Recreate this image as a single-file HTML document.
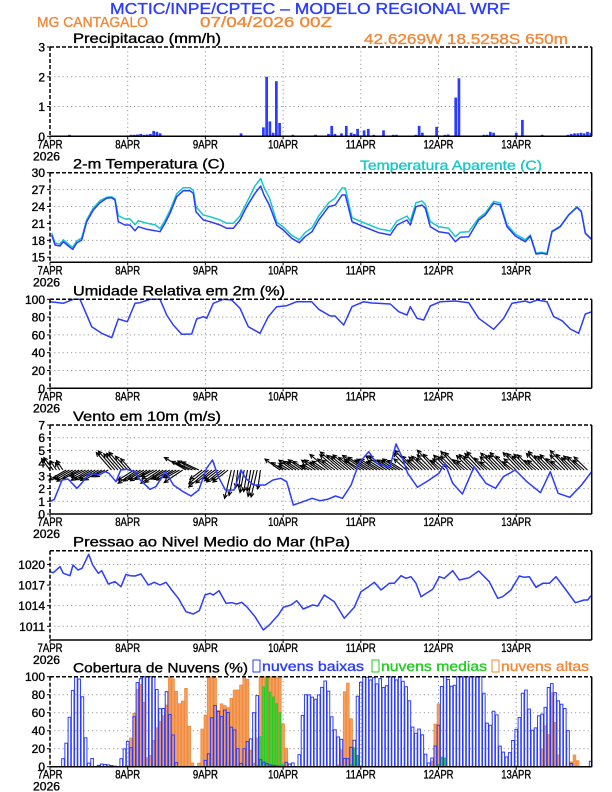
<!DOCTYPE html>
<html><head><meta charset="utf-8"><style>
body{margin:0;background:#fff;}
svg{display:block;font-family:"Liberation Sans",sans-serif;}
</style></head><body>
<svg id="s" width="612" height="792" viewBox="0 0 612 792" xmlns="http://www.w3.org/2000/svg"></svg>
<script>
const S=document.getElementById('s');let out='';
const X0=50,X1=591.7,PH=3.2375;const xh=h=>X0+h*PH;
const BL='#2b3cff',CY='#18c8c8',OR='#f0883a',GR='#22cc22';
function txt(x,y,t,opt){opt=opt||{};const c=opt.c||'#000';out+=`<text x="${x}" y="${y}" font-size="${opt.fs||12}" fill="${c}" stroke="${c}" stroke-width="0.35" text-anchor="${opt.a||'start'}" ${opt.tl?'textLength="'+opt.tl+'" lengthAdjust="spacingAndGlyphs"':''}>${t}</text>`;}
const days=['7APR','8APR','9APR','10APR','11APR','12APR','13APR'];
function panel(top,bot,vmin,vmax,ticks,title,tl){
  const ys=v=>bot-(v-vmin)/(vmax-vmin)*(bot-top);
  for(let d=1;d<7;d++){const x=xh(d*24);out+=`<line x1="${x}" y1="${top}" x2="${x}" y2="${bot}" stroke="#999" stroke-dasharray="1.2,3"/>`;}
  ticks.forEach(v=>{const y=ys(v);if(y>top+1&&y<bot-1)out+=`<line x1="${X0}" y1="${y}" x2="${X1}" y2="${y}" stroke="#999" stroke-dasharray="1.2,3"/>`;
    out+=`<line x1="${X0-3}" y1="${y}" x2="${X0}" y2="${y}" stroke="#000"/>`;txt(X0-5,y+4.5,v,{a:'end',fs:12});});
  for(let d=0;d<7;d++){const x=xh(d*24);out+=`<line x1="${x}" y1="${bot}" x2="${x}" y2="${bot+3}" stroke="#000"/>`;txt(x,bot+12,days[d],{a:'middle',fs:11.5,tl:days[d].length>4?30:25});}
  txt(33,bot+24,'2026',{fs:11.5,tl:27});
  txt(73,top-4,title,{fs:14,tl:tl});
  return ys;}
function frame(top,bot){out+=`<line x1="${X0}" y1="${top}" x2="${X1}" y2="${top}" stroke="#000" stroke-width="1.5" stroke-dasharray="4,2"/><line x1="${X0}" y1="${top}" x2="${X0}" y2="${bot}" stroke="#000" stroke-width="1.5" stroke-dasharray="4,2"/><line x1="${X1}" y1="${top}" x2="${X1}" y2="${bot}" stroke="#000" stroke-width="1.5"/><line x1="${X0}" y1="${bot}" x2="${X1}" y2="${bot}" stroke="#000" stroke-width="1.5"/>`;}
function pl(pts,c,w){out+=`<polyline points="${pts.map(p=>p[0].toFixed(1)+','+p[1].toFixed(1)).join(' ')}" fill="none" stroke="${c}" stroke-width="${w||1.5}" stroke-linejoin="round"/>`;}
txt(310,14,'MCTIC/INPE/CPTEC – MODELO REGIONAL WRF',{a:'middle',fs:16,c:BL,tl:400});
txt(37,27,'MG CANTAGALO',{fs:15,c:OR,tl:111});
txt(200,27,'07/04/2026 00Z',{fs:15,c:OR,tl:132});
txt(364,44,'42.6269W 18.5258S 650m',{fs:15,c:OR,tl:204});
let ys=panel(47,136.3,0,3,[0,1,2,3],'Precipitacao (mm/h)',148);
const pr={66.9:2.0,67.9:0.5,65.9:0.3,68.9:0.12,69.9:1.85,70.9:0.45,87:0.35,91.5:0.35,95:0.25,97:0.2,98.3:0.25,103:0.2,114:0.35,119.4:0.32,122:0.05,125.3:1.3,126.3:1.95,145.9:0.55,
 6:0.05,25:0.05,26:0.05,27:0.06,28:0.08,29:0.05,30:0.06,31:0.08,32:0.18,33:0.15,34:0.1,59:0.1,75:0.05,82:0.05,86:0.08,88:0.08,90:0.1,93:0.12,94:0.08,100:0.05,106:0.05,107:0.05,113:0.05,115:0.12,123:0.06,134:0.05,135:0.05,136:0.15,137:0.12,144:0.12,152:0.05,160:0.05,161:0.08,162:0.1,163:0.1,164:0.12,165:0.1,166:0.15,167:0.12};
for(const k in pr){const x=xh(+k)-1.3,y=ys(pr[k]);out+=`<rect x="${x}" y="${y}" width="2.7" height="${136.3-y}" fill="${BL}"/>`;}
frame(47,136.3);
ys=panel(172.7,262.3,14.1,30,[15,18,21,24,27,30],'2-m Temperatura (C)',152);
txt(360,170,'Temperatura Aparente (C)',{fs:14,c:CY,tl:182});
const T=[[51.7,235],[55,245],[60,246],[63.3,241.7],[68.3,246],[72.7,249.3],[76.7,243],[81.7,240],[86.7,221.7],[93.3,210],[100,202.7],[106.7,198.3],[111.7,197.7],[115,200],[118.3,221.7],[125,225],[130,225],[135,230.7],[138.3,226.7],[146.7,229.3],[155,230.7],[160,231.7],[165,223.3],[170,213.3],[176.7,196.7],[183.3,190.7],[190,190.7],[193.3,193.3],[196,211.7],[203.3,220],[210,221.7],[220,225],[226.7,228.3],[233.3,228.3],[240,220],[246.7,206.7],[255,193.3],[260.7,186],[264,195],[269.3,205],[276.7,225],[283.3,230],[291.7,238.3],[299.3,242.7],[305,236.7],[312,231.7],[318.7,220],[328.7,206.7],[335.3,205],[342,195],[345.3,195],[352,221.7],[362,226],[378.7,232.7],[390.3,235],[397,225],[407,220],[410.3,225],[416,206.7],[422,205],[425.3,208.3],[430.3,226.7],[438.7,231.7],[448.7,233.3],[455.3,241.7],[460.3,237.3],[468.7,236.7],[478.7,220],[485.3,215],[493.7,203.3],[500.3,205],[507,226.7],[515.3,236],[525.3,241.7],[530.3,236],[536,254],[542,253.3],[547,254.3],[552,231.7],[560.3,226.7],[568.7,215],[577,207.3],[581.3,211.7],[585.3,233.3],[592,240]];
const off=x=>{if(x<118)return (x>100&&x<116)?1:2;if(x<160)return 6;if(x<196)return 3;if(x<240)return 5;if(x<276)return x>250?7.5:4;if(x<300)return 3;if(x<352)return x>335?7:4;if(x<430)return 4;if(x<470)return 5;if(x<530)return 2;if(x<550)return 1;return 0.5;};
pl(T.map(p=>[p[0],p[1]-off(p[0])]),CY);
pl(T,BL);
frame(172.7,262.3);
ys=panel(299.3,388.3,0,100,[0,20,40,60,80,100],'Umidade Relativa em 2m (%)',212);
pl([[50,301.7],[63.3,303.3],[73.3,299.3],[80,299.3],[91.7,326.7],[101.7,333.3],[111.7,337.7],[118.3,319],[127.3,321.7],[135,303.3],[140,302.7],[150,299.3],[160,299.3],[166.7,315],[173.3,325],[181.7,334.3],[191.7,334],[196.7,319],[203.3,316.7],[206.7,318.3],[213.3,303.3],[223.3,299.3],[231.7,300],[240,308.3],[248.3,326.7],[260,333.3],[268.3,316.7],[276.7,306.7],[286.7,305.7],[296.7,301.7],[311.7,301.7],[318.7,309.3],[330.3,316],[335,316],[343.7,325],[352,306.7],[363.7,301.7],[372,303],[390.3,304],[398.7,311.7],[407,315],[410.3,306.7],[417,318.3],[423.7,320],[430.3,306],[440.3,301.7],[455.3,301],[468.7,302.7],[478.7,318.3],[493.7,329.3],[503.7,318.3],[512,303.3],[525.3,301],[530,302.7],[537,300],[547,301.7],[553.7,316.7],[562,320.7],[570.3,329],[578.7,333.3],[585.3,314],[592,311.7]],BL);
frame(299.3,388.3);
ys=panel(425,514,0,7,[0,1,2,3,4,5,6,7],'Vento em 10m (m/s)',148);
function arrow(x,y,dx,dy){const x2=x+dx,y2=y+dy,L=Math.hypot(dx,dy);if(L<1)return;const ux=dx/L,uy=dy/L,a=4;
 out+=`<line x1="${x}" y1="${y}" x2="${x2}" y2="${y2}" stroke="#000" stroke-width="1.1"/><polyline points="${x2-a*ux+a*0.5*uy},${y2-a*uy-a*0.5*ux} ${x2},${y2} ${x2-a*ux-a*0.5*uy},${y2-a*uy+a*0.5*ux}" fill="none" stroke="#000" stroke-width="1.1"/>`;}
for(let h=0;h<167;h++){if(h>=66&&h<71)continue;const x=xh(h),s=Math.sin(h*1.7)*0.5+Math.cos(h*0.9)*0.5;let dx,dy;
 if(h<5){dx=-7-3*s;dy=-10-3*s;}
 else if(h<19){dx=-16-4*s;dy=9+3*s;}
 else if(h<26){dx=-14-4*s;dy=-16-5*s;}
 else if(h<42){dx=-16-4*s;dy=10+4*s;}
 else if(h<47){dx=-18-4*s;dy=-9-4*s;}
 else if(h<56){dx=-15-5*s;dy=12+5*s;}
 else if(h<66){dx=-4-3*s;dy=22+7*s;}
 else if(h<86){dx=-12-4*s;dy=-8-4*s;}
 else if(h<96){dx=-17-5*s;dy=-14-5*s;}
 else if(h<110){dx=-17-5*s;dy=-11-4*s;}
 else{dx=-14-4*s;dy=-14-6*s;}
 arrow(x,470,dx,dy);}
const W=[[129,275],[140,268],[160,210],[175,207],[198,235],[210,220],[230,190],[255,195],[270,185],[280,190],[298,215],[310,180],[325,178],[348,185],[360,210],[385,238],[400,230],[425,185],[445,225],[470,245],[490,258],[510,240],[530,175],[545,150],[560,200],[578,240],[600,240],[618,180],[630,205],[650,225],[680,225],[700,210],[720,205],[735,215],[752,285],[770,278],[800,265],[820,272],[840,268],[860,258],[878,265],[900,225],[920,160],[945,125],[965,160],[990,170],[1000,168],[1015,102],[1030,140],[1045,190],[1070,232],[1100,210],[1125,190],[1140,160],[1160,220],[1185,252],[1215,170],[1245,220],[1270,235],[1290,200],[1320,180],[1350,215],[1385,248],[1410,185],[1430,250],[1460,262],[1490,225],[1516,185]];
pl(W.map(p=>[50+(p[0]-129)*(541.7/1387),410+p[1]/3]),BL);
frame(425,514);
ys=panel(550.7,640,1009,1022,[1011,1014,1017,1020],'Pressao ao Nivel Medio do Mar (hPa)',277);
const P1=[[150,125],[160,128],[180,110],[190,130],[210,137],[219,105],[234,120],[246,115],[266,73],[278,105],[295,130],[305,122],[325,162],[345,155],[363,170],[378,133],[390,137],[405,138],[423,132],[445,165],[463,157],[480,165],[498,157],[515,180],[535,205],[558,245],[580,252],[598,242],[615,195],[630,190],[640,195],[657,182],[678,220],[695,218],[710,222],[725,217],[740,230],[765,260],[790,300],[810,283],[835,255],[850,232],[873,225],[890,212],[910,237]].map(p=>[p[0]/3,530+p[1]/3]);
const P2=[[20,225],[35,228],[55,195],[85,215],[115,265],[145,232],[165,185],[185,172],[205,157],[225,180],[250,160],[265,160],[285,137],[300,145],[315,140],[330,160],[345,200],[380,178],[400,140],[415,145],[440,122],[460,150],[490,143],[518,123],[550,155],[575,205],[590,200],[615,180],[640,138],[655,142],[670,140],[690,172],[710,160],[730,160],[750,140],[780,180],[808,218],[835,210],[845,210],[855,197]].map(p=>[306+p[0]/3,530+p[1]/3]);
pl(P1.concat(P2),BL);
frame(550.7,640);
ys=panel(676.7,766.7,0,100,[0,20,40,60,80,100],'Cobertura de Nuvens (%)',175);
function interp(kp,h){for(let i=0;i<kp.length-1;i++){if(h>=kp[i][0]&&h<=kp[i+1][0]){const t=(h-kp[i][0])/(kp[i+1][0]-kp[i][0]||1);return kp[i][1]+t*(kp[i+1][1]-kp[i][1]);}}return 0;}
const cx=X=>(X-129)/8.3;
const LOW=[[0,0],[3,0],[3.7,5],[4.7,18],[5.7,45],[6.7,78],[7.7,100],[8.8,100],[9.8,87],[10.7,45],[11.7,2],[12.9,10],[14,0],[16,3],[18,2],[21,0],[22.8,16],[23.7,33],[24.8,15],[25.8,45],[26.7,92],[27.7,97],[28.8,100],[32,100],[32.6,95],[33.9,65],[34.8,60],[35.9,86],[36.9,60],[37.8,42],[38.9,5],[40,0],[47,0],[48,7],[48.9,10],[49.9,53],[51,68],[51.9,62],[52.9,55],[54,63],[54.9,62],[55.9,44],[56.9,43],[58,20],[58.9,2],[60,20],[61,28],[61.9,28],[63,60],[64,79],[64.9,8],[66,5],[68,2],[72,0],[72.9,5],[74,3],[74.8,5],[76,0],[76.9,9],[78,57],[79,80],[79.9,80],[80.8,78],[81.8,74],[82.9,79],[83.9,87],[84.8,97],[85.9,87],[86.9,57],[87.8,43],[88.8,33],[89.9,33],[90.8,10],[91.8,6],[92.9,22],[93.8,18],[94.8,75],[95.9,93],[96.9,100],[97.8,100],[98.9,96],[99.9,100],[100.8,90],[101.8,100],[102.9,88],[103.9,89],[105,100],[105.9,100],[106.9,96],[107.8,100],[108.8,96],[109.9,90],[110.8,80],[111.8,46],[112.8,36],[113.9,42],[114.8,40],[115.8,17],[116.7,3],[117.8,7],[118.8,20],[119.8,35],[120.7,85],[121.8,100],[122.7,100],[123.7,90],[124.8,88],[125.8,100],[133,100],[133.8,90],[134.7,52],[135.7,40],[136.7,60],[137.8,66],[138.8,24],[139.8,18],[140.7,10],[141.8,13],[142.8,26],[143.7,40],[144.7,45],[145.8,80],[146.8,88],[147.7,75],[148.6,42],[149.7,38],[150.7,55],[151.7,60],[152.6,55],[153.7,85],[154.7,95],[155.6,87],[156.6,75],[157.7,70],[158.7,68],[159.7,57],[160.6,6],[161.6,0],[166,0],[167,6]];
const HIGHk=[[335,27],[343,53],[352,85],[360,92],[368,88],[376,10],[385,10],[395,30],[404,45],[418,55],[427,65],[435,100],[443,100],[452,85],[460,70],[468,70],[477,90],[485,50],[493,5],[500,0],[510,0],[518,40],[527,55],[535,100],[552,100],[560,62],[568,70],[577,68],[585,65],[593,75],[601,85],[610,85],[618,90],[627,100],[635,100],[643,20],[650,0],[655,10],[660,30],[668,100],[718,100],[727,45],[735,20],[743,0],[866,0],[875,10],[883,80],[891,100],[900,60],[908,0],[1107,0],[1115,35],[1123,93],[1131,0],[1388,0],[1396,60],[1405,15],[1413,90],[1421,65],[1429,20],[1438,0],[1462,0],[1470,13],[1478,13],[1486,0]].map(p=>[cx(p[0]),p[1]]);
const MIDk=[[cx(660),0],[cx(668),30],[cx(677),90],[cx(685),100],[cx(693),83],[cx(701),78],[cx(710),70],[cx(718),62],[cx(727),0],[cx(900),0],[cx(908),22],[cx(916),15],[cx(925),0],[cx(1123),0],[cx(1131),10],[cx(1140),12],[cx(1148),0]];
const bw=PH-0.6;
for(let h=0;h<=167;h++){const v=Math.max(0,interp(HIGHk,h));if(v>0.5){const y=ys(v);out+=`<rect x="${xh(h)-bw/2}" y="${y}" width="${bw}" height="${766.7-y}" fill="#f5a060" stroke="${OR}" stroke-width="0.8"/>`;}}
for(let h=0;h<=167;h++){const v=Math.max(0,interp(MIDk,h));if(v>0.5){const y=ys(v);out+=`<rect x="${xh(h)-bw/2+0.5}" y="${y}" width="${bw-1}" height="${766.7-y}" fill="#4ad84a" stroke="${GR}" stroke-width="1"/>`;}}
for(let h=0;h<=167;h++){const v=Math.max(0,interp(LOW,h));const y=ys(v);out+=`<rect x="${xh(h)-bw/2}" y="${y}" width="${bw}" height="${766.7-y}" fill="none" stroke="${BL}" stroke-width="1"/>`;}
frame(676.7,766.7);
out+=`<rect x="253" y="660" width="7" height="12" fill="none" stroke="${BL}" stroke-width="1"/>`;txt(262,671,'nuvens baixas',{fs:14,c:BL,tl:102});
out+=`<rect x="372" y="660" width="7" height="12" fill="none" stroke="${GR}" stroke-width="1"/>`;txt(381,671,'nuvens medias',{fs:14,c:GR,tl:106});
out+=`<rect x="492" y="660" width="7" height="12" fill="none" stroke="${OR}" stroke-width="1"/>`;txt(501,671,'nuvens altas',{fs:14,c:OR,tl:88});
S.innerHTML=out;
</script>
</body></html>
